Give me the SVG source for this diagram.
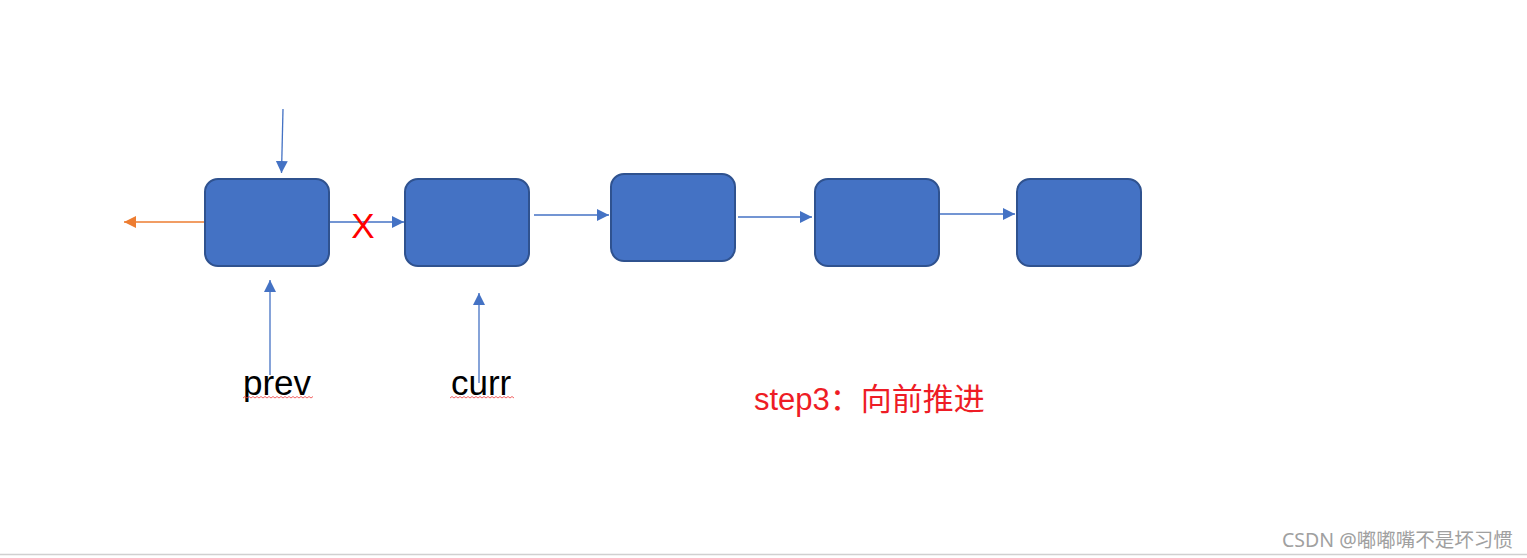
<svg xmlns="http://www.w3.org/2000/svg" width="1527" height="558" viewBox="0 0 1527 558">
<style>
.node{fill:#4472C4;stroke:#2F528F;stroke-width:2}
.ln{stroke:#4472C4;stroke-width:1.3;fill:none}
.or{stroke:#ED7D31;stroke-width:1.3;fill:none}
.lbl{font-family:"Liberation Sans","Noto Sans CJK SC",sans-serif;font-size:35px;fill:#000}
.wavy{stroke:#F03C3C;stroke-width:0.8;fill:none}
</style>
<defs>
<marker id="ab" viewBox="0 0 10 10" refX="10" refY="5" markerWidth="12" markerHeight="12" markerUnits="userSpaceOnUse" orient="auto"><path d="M0,0 L10,5 L0,10 Z" fill="#4472C4"/></marker>
<marker id="ao" viewBox="0 0 10 10" refX="10" refY="5" markerWidth="12" markerHeight="12" markerUnits="userSpaceOnUse" orient="auto"><path d="M0,0 L10,5 L0,10 Z" fill="#ED7D31"/></marker>
</defs>
<rect width="1527" height="558" fill="#fff"/>
<text x="486" y="-7" font-family="Liberation Sans,sans-serif" font-size="30" fill="#000">p</text>
<g id="connectors">
<line x1="283" y1="109" x2="281.5" y2="173" class="ln" marker-end="url(#ab)"/>
<line x1="205" y1="222" x2="124" y2="222" class="or" marker-end="url(#ao)"/>
<line x1="329" y1="222" x2="404" y2="222" class="ln" marker-end="url(#ab)"/>
<line x1="534" y1="215" x2="609" y2="215" class="ln" marker-end="url(#ab)"/>
<line x1="738" y1="217" x2="812" y2="217" class="ln" marker-end="url(#ab)"/>
<line x1="940" y1="214" x2="1015" y2="214" class="ln" marker-end="url(#ab)"/>
<line x1="270" y1="375" x2="270" y2="280" class="ln" marker-end="url(#ab)"/>
<line x1="479" y1="383" x2="479" y2="293" class="ln" marker-end="url(#ab)"/>
</g>
<g id="node1"><rect x="205" y="179" width="124" height="87" rx="13" class="node"/></g>
<g id="node2"><rect x="405" y="179" width="124" height="87" rx="13" class="node"/></g>
<g id="node3"><rect x="611" y="174" width="124" height="87" rx="13" class="node"/></g>
<g id="node4"><rect x="815" y="179" width="124" height="87" rx="13" class="node"/></g>
<g id="node5"><rect x="1017" y="179" width="124" height="87" rx="13" class="node"/></g>
<text x="363" y="238" text-anchor="middle" font-family="Liberation Sans,sans-serif" font-size="35" fill="#FF0000">X</text>
<g id="prev"><text x="243" y="395" class="lbl">prev</text>
<path class="wavy" d="M243,398 l2,-1.5 l2,1.5 l2,-1.5 l2,1.5 l2,-1.5 l2,1.5 l2,-1.5 l2,1.5 l2,-1.5 l2,1.5 l2,-1.5 l2,1.5 l2,-1.5 l2,1.5 l2,-1.5 l2,1.5 l2,-1.5 l2,1.5 l2,-1.5 l2,1.5 l2,-1.5 l2,1.5 l2,-1.5 l2,1.5 l2,-1.5 l2,1.5 l2,-1.5 l2,1.5 l2,-1.5 l2,1.5 l2,-1.5 l2,1.5 l2,-1.5 l2,1.5 l2,-1.5"/></g>
<g id="curr"><text x="451" y="395" class="lbl">curr</text>
<path class="wavy" d="M450,398 l2,-1.5 l2,1.5 l2,-1.5 l2,1.5 l2,-1.5 l2,1.5 l2,-1.5 l2,1.5 l2,-1.5 l2,1.5 l2,-1.5 l2,1.5 l2,-1.5 l2,1.5 l2,-1.5 l2,1.5 l2,-1.5 l2,1.5 l2,-1.5 l2,1.5 l2,-1.5 l2,1.5 l2,-1.5 l2,1.5 l2,-1.5 l2,1.5 l2,-1.5 l2,1.5 l2,-1.5 l2,1.5 l2,-1.5 l2,1.5"/></g>
<text x="754" y="410" font-family="Liberation Sans,Noto Sans CJK SC,sans-serif" font-size="31" fill="#EE1C25">step3：向前推进</text>
<text x="1282" y="547" font-family="Noto Sans,Noto Sans CJK SC,sans-serif" font-size="19.5" fill="#A0A0A0">CSDN @嘟嘟嘴不是坏习惯</text>
<line x1="0" y1="554.5" x2="1527" y2="554.5" stroke="#D0D0D0" stroke-width="1.5"/>
</svg>
